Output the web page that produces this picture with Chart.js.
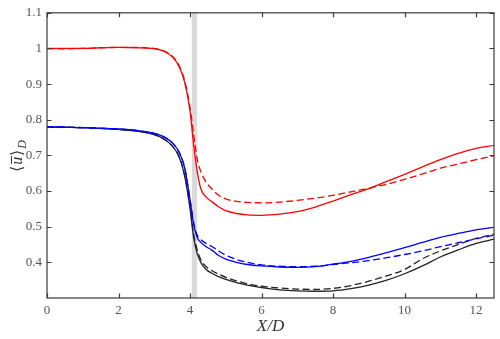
<!DOCTYPE html>
<html>
<head>
<meta charset="utf-8">
<script src="https://cdn.jsdelivr.net/npm/chart.js@4.4.1/dist/chart.umd.min.js"></script>
<style>
html,body{margin:0;padding:0;background:#fff;}
#wrap{width:500px;height:339px;position:relative;}
</style>
</head>
<body>
<div id="wrap"><canvas id="c" width="500" height="339"></canvas></div>
<script>
// ---- data ----
const xPos = [0,0.5,1,1.5,2,2.5,3,3.25,3.5,3.7,3.85,4.0,4.1,4.2,4.3,4.45,4.6,4.8,5.0,5.3,5.6,6,6.5,7,7.5,8,8.5,9,9.5,10,10.5,11,11.5,12,12.5];
const redSolid = [1.0,1.0,1.0,1.002,1.003,1.002,0.999,0.993,0.977,0.948,0.905,0.825,0.73,0.655,0.607,0.583,0.571,0.556,0.545,0.537,0.533,0.532,0.535,0.542,0.555,0.572,0.59,0.607,0.627,0.647,0.668,0.688,0.706,0.72,0.728];
const redDashed = [0.999,0.999,1.0,1.002,1.003,1.003,1.0,0.994,0.979,0.951,0.91,0.835,0.76,0.69,0.655,0.625,0.607,0.588,0.578,0.571,0.568,0.567,0.569,0.574,0.58,0.588,0.598,0.608,0.619,0.633,0.648,0.664,0.676,0.688,0.699];
const blueSolid = [0.78,0.779,0.778,0.776,0.774,0.77,0.762,0.753,0.736,0.708,0.665,0.575,0.507,0.47,0.456,0.444,0.435,0.419,0.409,0.4,0.394,0.39,0.387,0.386,0.388,0.395,0.403,0.414,0.427,0.441,0.456,0.47,0.481,0.491,0.498];
const blueDashed = [0.78,0.779,0.778,0.776,0.774,0.77,0.762,0.753,0.736,0.708,0.665,0.577,0.512,0.476,0.464,0.453,0.445,0.432,0.42,0.408,0.4,0.393,0.389,0.388,0.389,0.394,0.399,0.405,0.413,0.422,0.432,0.444,0.455,0.466,0.476];
const blackSolid = [0.78,0.779,0.778,0.776,0.773,0.768,0.758,0.747,0.727,0.695,0.642,0.55,0.47,0.425,0.4,0.38,0.37,0.36,0.352,0.343,0.336,0.329,0.323,0.32,0.319,0.32,0.326,0.336,0.35,0.368,0.39,0.415,0.435,0.453,0.465];
const blackDashed = [0.78,0.779,0.778,0.776,0.773,0.768,0.758,0.747,0.727,0.695,0.644,0.556,0.48,0.435,0.408,0.388,0.377,0.367,0.358,0.348,0.34,0.333,0.328,0.325,0.324,0.327,0.335,0.347,0.362,0.38,0.41,0.432,0.45,0.467,0.479];
const xTicks = [0,2,4,6,8,10,12];
const yTicks = [0.4,0.5,0.6,0.7,0.8,0.9,1,1.1];
const bandRange = [4.05,4.2];

const pts = arr => arr.map((v,i)=>({x:xPos[i], y:v}));
const FONT = 'Liberation Serif';

function ds(label, arr, color, dashed){
  return {label, data: pts(arr), borderColor: color, borderWidth: 1.3,
    borderDash: dashed ? [7,3.5] : [], pointRadius: 0, fill: false,
    cubicInterpolationMode: 'monotone'};
}

const decorPlugin = {
  id: 'decor',
  beforeDatasetsDraw(chart){
    const {ctx, chartArea:a, scales:{x}} = chart;
    ctx.save();
    ctx.fillStyle = '#dadada';
    const x0 = x.getPixelForValue(bandRange[0]), x1 = x.getPixelForValue(bandRange[1]);
    ctx.fillRect(x0, a.top, x1-x0, a.bottom-a.top);
    ctx.restore();
  },
  afterDraw(chart){
    const {ctx, chartArea:a, scales:{x,y}} = chart;
    ctx.save();
    ctx.strokeStyle = '#3a3a3a';
    ctx.lineWidth = 1.2;
    ctx.strokeRect(a.left, a.top, a.right-a.left, a.bottom-a.top);
    const L = 4.5;
    ctx.beginPath();
    xTicks.forEach(v=>{
      const px = Math.round(x.getPixelForValue(v))+0.5;
      ctx.moveTo(px,a.bottom); ctx.lineTo(px,a.bottom-L);
      ctx.moveTo(px,a.top); ctx.lineTo(px,a.top+L);
    });
    yTicks.forEach(v=>{
      const py = Math.round(y.getPixelForValue(v))+0.5;
      ctx.moveTo(a.left,py); ctx.lineTo(a.left+L,py);
      ctx.moveTo(a.right,py); ctx.lineTo(a.right-L,py);
    });
    ctx.stroke();
    // y-axis title <u-bar>_D
    const cy = (a.top+a.bottom)/2;
    ctx.translate(17, cy);
    ctx.rotate(-Math.PI/2);
    ctx.fillStyle = '#333';
    ctx.textBaseline = 'alphabetic';
    const f1 = '16px "' + FONT + '"';
    const fi = 'italic 16px "' + FONT + '"';
    const fs = 'italic 12px "' + FONT + '"';
    const parts = [['\u27E8', f1, 0], ['u', fi, 0], ['\u27E9', f1, 0], ['D', fs, 4]];
    let total = 0;
    parts.forEach(p=>{ ctx.font = p[1]; total += ctx.measureText(p[0]).width + 1; });
    let cx = -total/2;
    const base = 5;
    parts.forEach((p,i)=>{
      ctx.font = p[1];
      const w = ctx.measureText(p[0]).width;
      ctx.fillText(p[0], cx, base + p[2]);
      if (p[0]==='u'){
        ctx.strokeStyle = '#333'; ctx.lineWidth = 1;
        ctx.beginPath(); ctx.moveTo(cx+1, base-10.5); ctx.lineTo(cx+w+0.5, base-10.5); ctx.stroke();
      }
      cx += w + 1;
    });
    ctx.restore();
  }
};

new Chart(document.getElementById('c'), {
  type: 'line',
  data: { datasets: [
    ds('red solid', redSolid, '#ff0000', false),
    ds('red dashed', redDashed, '#ff0000', true),
    ds('blue solid', blueSolid, '#0000ff', false),
    ds('blue dashed', blueDashed, '#0000ff', true),
    ds('black solid', blackSolid, '#222222', false),
    ds('black dashed', blackDashed, '#222222', true)
  ]},
  options: {
    responsive: false, animation: false, devicePixelRatio: 1,
    layout: { padding: { top: 10, right: 6, left: 0, bottom: 0 } },
    plugins: { legend: {display:false}, tooltip: {enabled:false} },
    scales: {
      x: {
        type: 'linear', min: 0, max: 12.5,
        afterBuildTicks: s => { s.ticks = xTicks.map(v=>({value:v})); },
        ticks: { color: '#555', font: {family: FONT, size: 13}, padding: 5, maxRotation: 0,
          callback: v => String(v) },
        grid: { display: false, drawTicks: false },
        border: { display: false },
        title: { display: true, text: 'X/D', color: '#333', font: {family: FONT, size: 17, style: 'italic'}, padding: {top: 0, bottom: 2} },
        afterFit: s => { s.height = 41; }
      },
      y: {
        type: 'linear', min: 0.3, max: 1.1,
        afterBuildTicks: s => { s.ticks = yTicks.map(v=>({value:v})); },
        ticks: { color: '#555', font: {family: FONT, size: 13}, padding: 5,
          callback: v => String(Math.round(v*10)/10) },
        grid: { display: false, drawTicks: false },
        border: { display: false },
        afterFit: s => { s.width = 47; }
      }
    }
  },
  plugins: [decorPlugin]
});
</script>
</body>
</html>
